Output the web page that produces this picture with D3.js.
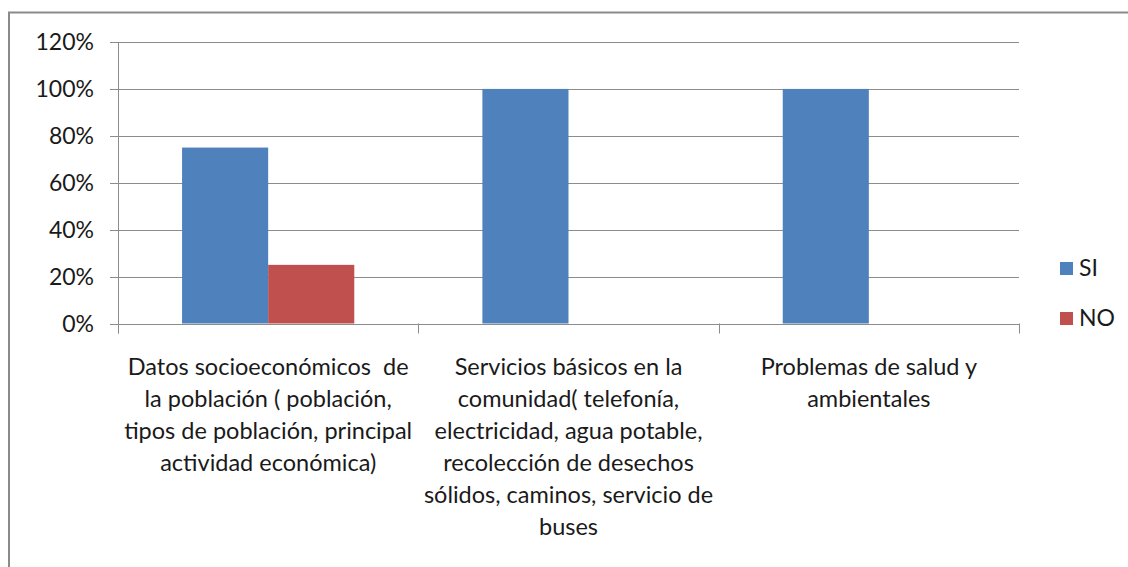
<!DOCTYPE html>
<html>
<head>
<meta charset="utf-8">
<script src="https://cdn.jsdelivr.net/npm/d3@7"></script>
<style>
  html, body { margin: 0; padding: 0; background: #fff; }
  svg { display: block; font-family: Lato, "Open Sans", sans-serif; }
</style>
</head>
<body>
<svg id="chart" width="1128" height="567"></svg>
<script>
// Kategorien (Zeilenumbrüche wie im Original)
const categoryLines = [
  ["Datos socioeconómicos  de", "la población ( población,", "tipos de población, principal", "actividad económica)"],
  ["Servicios básicos en la", "comunidad( telefonía,", "electricidad, agua potable,", "recolección de desechos", "sólidos, caminos, servicio de", "buses"],
  ["Problemas de salud y", "ambientales"]
];
const categories = ["Datos", "Servicios", "Problemas"];

// Serien
const seriesNames = ["SI", "NO"];
const siValues = [0.75, 1.00, 1.00];
const noValues = [0.25, 0, 0];

// Achsenticks
const yTicks = [0, 0.2, 0.4, 0.6, 0.8, 1.0, 1.2];

const colors = { SI: "#4F81BD", NO: "#C0504D" };

const svg = d3.select("#chart");

// Rahmen
svg.append("rect")
  .attr("x", 9).attr("y", 12.5)
  .attr("width", 1200).attr("height", 700)
  .attr("fill", "none")
  .attr("stroke", "#8a8a8a")
  .attr("stroke-width", 2);

const plot = { left: 118, right: 1019, top: 42, bottom: 323.5 };

const x = d3.scaleBand()
  .domain(categories)
  .range([plot.left, plot.right])
  .paddingInner(0)
  .paddingOuter(0);

const inner = d3.scaleBand()
  .domain(seriesNames)
  .range([0, x.bandwidth()])
  .paddingOuter(0.744)
  .paddingInner(0);

const y = d3.scaleLinear()
  .domain([0, 1.2])
  .range([plot.bottom, plot.top]);

// Gitterlinien
svg.append("g")
  .selectAll("line")
  .data(yTicks)
  .join("line")
  .attr("x1", plot.left - 8)
  .attr("x2", plot.right)
  .attr("y1", d => Math.round(y(d)) + 0.5)
  .attr("y2", d => Math.round(y(d)) + 0.5)
  .attr("stroke", "#8c8c8c")
  .attr("stroke-width", 1);

// Y-Achse Beschriftung
svg.append("g")
  .selectAll("text")
  .data(yTicks)
  .join("text")
  .attr("x", 94)
  .attr("y", d => y(d) + 8)
  .attr("text-anchor", "end")
  .attr("font-size", 23)
  .attr("fill", "#1a1a1a")
  .text(d => d3.format(".0%")(d));

// Balken
const rows = categories.map((c, i) => ({ cat: c, SI: siValues[i], NO: noValues[i] }));

svg.append("g")
  .selectAll("g")
  .data(rows)
  .join("g")
  .attr("transform", d => `translate(${x(d.cat)},0)`)
  .selectAll("rect")
  .data(d => seriesNames.map(s => ({ s, v: d[s] })).filter(e => e.v > 0))
  .join("rect")
  .attr("x", d => inner(d.s))
  .attr("width", inner.bandwidth())
  .attr("y", d => y(d.v))
  .attr("height", d => y(0) - y(d.v))
  .attr("fill", d => colors[d.s]);

// Achsenlinien
svg.append("line")
  .attr("x1", plot.left + 0.5).attr("x2", plot.left + 0.5)
  .attr("y1", plot.top).attr("y2", plot.bottom + 10)
  .attr("stroke", "#8c8c8c");

svg.append("g")
  .selectAll("line")
  .data(categories.map(c => x(c)).concat([plot.right]))
  .join("line")
  .attr("x1", d => Math.round(d) + 0.5)
  .attr("x2", d => Math.round(d) + 0.5)
  .attr("y1", plot.bottom)
  .attr("y2", plot.bottom + 10)
  .attr("stroke", "#8c8c8c");

// Kategorienbeschriftung
svg.append("g")
  .selectAll("text")
  .data(categories)
  .join("text")
  .attr("text-anchor", "middle")
  .attr("font-size", 23.5)
  .attr("fill", "#1a1a1a")
  .style("white-space", "pre")
  .each(function(d, i) {
    d3.select(this).selectAll("tspan")
      .data(categoryLines[i])
      .join("tspan")
      .attr("x", x(d) + x.bandwidth() / 2)
      .attr("y", (t, j) => 375 + j * 32)
      .text(t => t);
  });

// Legende
const legend = svg.append("g")
  .selectAll("g")
  .data(seriesNames)
  .join("g")
  .attr("transform", (d, i) => `translate(1060,${262 + i * 50})`);

legend.append("rect")
  .attr("width", 13).attr("height", 13)
  .attr("fill", d => colors[d]);

legend.append("text")
  .attr("x", 19)
  .attr("y", 14)
  .attr("font-size", 23)
  .attr("fill", "#1a1a1a")
  .text(d => d);
</script>
</body>
</html>
